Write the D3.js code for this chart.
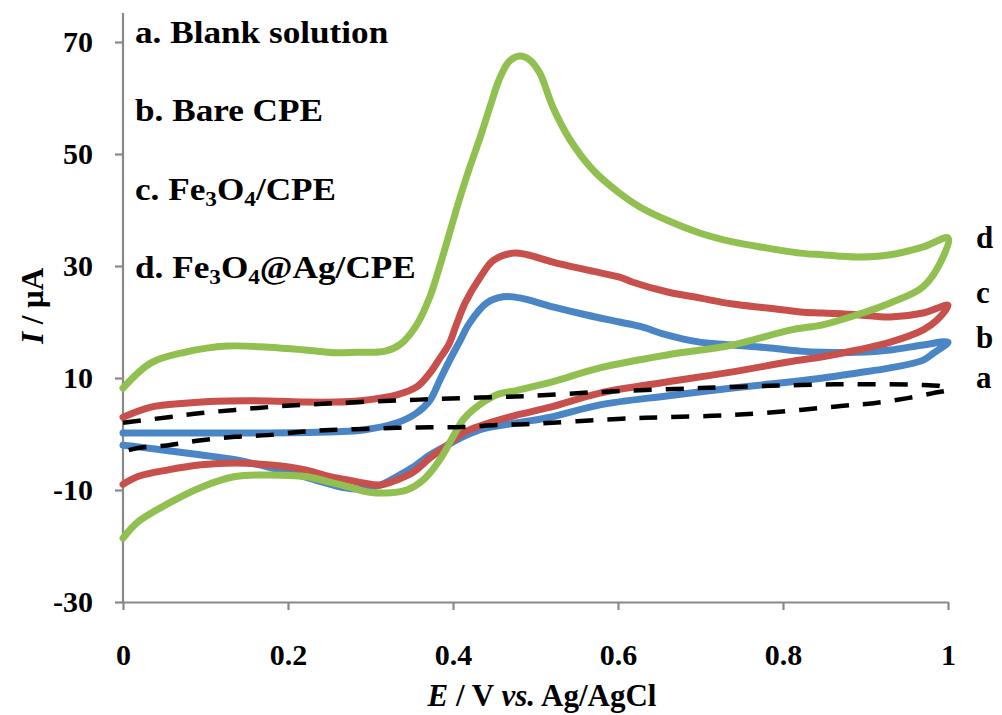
<!DOCTYPE html>
<html>
<head>
<meta charset="utf-8">
<script src="https://cdn.jsdelivr.net/npm/d3@7"></script>
<style>
  html, body { margin: 0; padding: 0; background: #fff; }
  svg { display: block; }
  svg text { font-family: "Liberation Serif", Tinos, "Times New Roman", Times, "Noto Serif", "DejaVu Serif", serif; font-weight: bold; fill: #000; }
</style>
</head>
<body>
<svg id="chart" width="1002" height="715"></svg>
<script>
// ---------------- data ----------------
const xTicks = [0, 0.2, 0.4, 0.6, 0.8, 1];
const yTicks = [-30, -10, 10, 30, 50, 70];

const legendLabels = ["a. Blank solution", "b. Bare CPE", "c. Fe3O4/CPE", "d. Fe3O4@Ag/CPE"];
const curveTags = ["a", "b", "c", "d"];

// a. Blank solution (dashed)
const eA_fwd = [0, 0.055, 0.095, 0.136, 0.176, 0.216, 0.257, 0.332, 0.372, 0.412, 0.453, 0.493, 0.578, 0.699, 0.821, 0.89, 0.97, 0.992, 1.0];
const iA_fwd = [2.0, 3.0, 3.75, 4.3, 4.8, 5.2, 5.5, 6.0, 6.2, 6.4, 6.6, 6.8, 7.5, 8.2, 8.75, 8.9, 8.75, 8.5, 7.9];
const eA_rev = [0.982, 0.951, 0.91, 0.87, 0.821, 0.739, 0.659, 0.6, 0.493, 0.453, 0.412, 0.372, 0.332, 0.291, 0.251, 0.216, 0.176, 0.136, 0.095, 0.055, 0.018, 0];
const iA_rev = [7.3, 6.4, 5.5, 5.0, 4.3, 3.4, 3.0, 2.7, 1.8, 1.6, 1.25, 1.2, 1.1, 0.9, 0.7, 0.4, -0.2, -0.5, -1.1, -2.0, -2.5, -3.2];

// b. Bare CPE (blue)
const eB_fwd = [0, 0.127, 0.176, 0.257, 0.291, 0.332, 0.356, 0.372, 0.384, 0.396, 0.408, 0.42, 0.441, 0.461, 0.481, 0.521, 0.562, 0.602, 0.627, 0.659, 0.699, 0.739, 0.781, 0.821, 0.848, 0.89, 0.93, 0.97, 1.0];
const iB_fwd = [0.2, 0.2, 0.2, 0.4, 0.7, 2.0, 3.75, 6.0, 9.6, 13.2, 16.5, 19.8, 23.4, 24.5, 24.3, 22.7, 21.25, 20.0, 19.2, 17.7, 16.4, 15.9, 15.4, 14.8, 14.6, 14.6, 15.0, 15.9, 16.4];
const eB_rev = [0.982, 0.97, 0.93, 0.89, 0.848, 0.808, 0.739, 0.659, 0.578, 0.518, 0.478, 0.436, 0.412, 0.393, 0.372, 0.352, 0.332, 0.312, 0.291, 0.265, 0.24, 0.21, 0.176, 0.136, 0.095, 0.055, 0.018, 0];
const iB_rev = [14.4, 13.2, 11.8, 10.9, 10.0, 9.3, 8.2, 6.8, 5.2, 3.0, 2.0, 0.9, -0.5, -2.0, -3.75, -5.9, -7.6, -9.1, -9.8, -9.5, -8.5, -7.2, -5.9, -4.6, -3.75, -3.0, -2.3, -2.0];

// c. Fe3O4/CPE (red)
const eC_fwd = [0, 0.034, 0.075, 0.127, 0.176, 0.221, 0.257, 0.291, 0.332, 0.356, 0.372, 0.384, 0.395, 0.404, 0.415, 0.433, 0.449, 0.473, 0.49, 0.521, 0.562, 0.602, 0.618, 0.659, 0.699, 0.739, 0.781, 0.821, 0.848, 0.89, 0.93, 0.97, 1.0];
const iC_fwd = [3.0, 4.8, 5.5, 5.9, 5.9, 5.7, 5.7, 6.0, 7.0, 8.4, 10.9, 13.5, 16.0, 19.5, 23.5, 28.0, 31.0, 32.3, 32.0, 30.7, 29.3, 28.0, 27.1, 25.4, 24.3, 23.2, 22.5, 21.8, 21.6, 21.3, 20.9, 21.6, 23.0];
const eC_rev = [0.987, 0.97, 0.93, 0.89, 0.848, 0.808, 0.739, 0.659, 0.578, 0.518, 0.478, 0.436, 0.412, 0.393, 0.372, 0.352, 0.332, 0.312, 0.291, 0.272, 0.251, 0.221, 0.176, 0.136, 0.095, 0.055, 0.018, 0];
const iC_rev = [20.4, 18.6, 16.4, 15.0, 13.8, 12.9, 11.1, 9.3, 7.3, 4.8, 3.4, 1.6, 0.2, -2.0, -4.3, -6.8, -8.2, -9.1, -8.75, -8.2, -7.6, -6.4, -5.5, -5.2, -5.5, -6.4, -7.6, -9.0];

// d. Fe3O4@Ag/CPE (green)
const eD_fwd = [0, 0.034, 0.075, 0.127, 0.176, 0.221, 0.257, 0.284, 0.318, 0.336, 0.356, 0.372, 0.384, 0.396, 0.408, 0.42, 0.433, 0.445, 0.456, 0.468, 0.481, 0.493, 0.505, 0.521, 0.542, 0.570, 0.602, 0.627, 0.659, 0.699, 0.739, 0.781, 0.821, 0.848, 0.89, 0.93, 0.97, 1.0];
const iD_fwd = [8.2, 12.7, 14.6, 15.7, 15.5, 15.0, 14.5, 14.6, 14.8, 16.0, 19.5, 24.5, 30.0, 36.0, 42.0, 47.5, 53.0, 58.5, 63.3, 66.5, 67.5, 66.8, 64.5, 58.4, 52.5, 47.1, 43.0, 40.5, 38.2, 35.9, 34.3, 33.2, 32.3, 32.0, 31.6, 32.0, 33.4, 35.0];
const eD_rev = [0.994, 0.97, 0.93, 0.89, 0.848, 0.81, 0.739, 0.659, 0.578, 0.52, 0.478, 0.453, 0.424, 0.412, 0.4, 0.384, 0.364, 0.344, 0.324, 0.299, 0.275, 0.251, 0.221, 0.176, 0.136, 0.095, 0.055, 0.018, 0];
const iD_rev = [31.6, 26.3, 23.4, 21.3, 19.5, 18.6, 15.9, 14.1, 11.8, 9.3, 7.8, 7.0, 4.3, 2.5, -0.5, -4.6, -8.2, -10.0, -10.5, -10.4, -9.5, -8.6, -7.6, -7.3, -7.6, -9.5, -12.4, -15.7, -18.6];

// ---------------- chart ----------------
const FONT = '"Liberation Serif", Tinos, "Times New Roman", Times, "Noto Serif", "DejaVu Serif", serif';
const svg = d3.select("#chart").attr("font-family", FONT);
const axisColor = "#898989";

const x = d3.scaleLinear().domain([0, 1]).range([123, 948]);
const y = d3.scaleLinear().domain([-30, 70]).range([602, 42]);
const yTop = 75.2; // axis line extends a bit above the 70 tick

function pts(e1, i1, e2, i2) {
  const a = e1.map((e, k) => [e, i1[k]]);
  const b = e2.map((e, k) => [e, i2[k]]);
  return a.concat(b);
}

const series = [
  { key: "b", data: pts(eB_fwd, iB_fwd, eB_rev, iB_rev), color: "#4A85C6", width: 7, dash: null },
  { key: "c", data: pts(eC_fwd, iC_fwd, eC_rev, iC_rev), color: "#C8504C", width: 7, dash: null },
  { key: "d", data: pts(eD_fwd, iD_fwd, eD_rev, iD_rev), color: "#92C050", width: 7, dash: null },
  { key: "a", data: pts(eA_fwd, iA_fwd, eA_rev, iA_rev), color: "#000000", width: 4.5, dash: "18,14" }
];

// axes
const yAxis = d3.axisLeft(y).tickValues(yTicks).tickSize(8).tickSizeOuter(0).tickPadding(22)
  .tickFormat(d => String(d));
const gy = svg.append("g").attr("transform", "translate(123,0)").call(yAxis).attr("font-family", FONT);
gy.select(".domain").remove();
gy.append("line").attr("x1", 0).attr("x2", 0).attr("y1", y(yTop)).attr("y2", y(-30))
  .attr("stroke", axisColor).attr("stroke-width", 2.2);
gy.selectAll(".tick line").attr("stroke", axisColor).attr("stroke-width", 2.2);
gy.selectAll(".tick text").attr("font-size", 30).attr("font-family", FONT)
  .attr("font-weight", "bold").attr("fill", "#000");

const xAxis = d3.axisBottom(x).tickValues(xTicks).tickSize(8).tickSizeOuter(0)
  .tickFormat(d => (d === 0 ? "0" : d === 1 ? "1" : d3.format(".1f")(d)));
const gx = svg.append("g").attr("transform", "translate(0,602)").call(xAxis).attr("font-family", FONT);
gx.select(".domain").attr("stroke", axisColor).attr("stroke-width", 2.2);
gx.selectAll(".tick line").attr("stroke", axisColor).attr("stroke-width", 2.2);
gx.selectAll(".tick text").attr("font-size", 30).attr("font-family", FONT)
  .attr("font-weight", "bold").attr("fill", "#000").attr("dy", null).attr("y", 63);

// curves
const line = d3.line().x(d => x(d[0])).y(d => y(d[1])).curve(d3.curveCatmullRom.alpha(0.5));
svg.append("g").selectAll("path").data(series).join("path")
  .attr("d", d => line(d.data))
  .attr("fill", "none")
  .attr("stroke", d => d.color)
  .attr("stroke-width", d => d.width)
  .attr("stroke-dasharray", d => d.dash)
  .attr("stroke-linejoin", "round")
  .attr("stroke-linecap", d => d.dash ? "butt" : "round");

// legend text block (upper left)
const legendY = [43, 121, 200, 278];
const lg = svg.append("g");
function addLabel(g, str, xx, yy, size) {
  const t = g.append("text").attr("transform", `translate(${xx},${yy}) scale(1.1,1)`)
    .attr("font-size", size);
  const parts = str.split(/(Fe3|O4)/).filter(s => s.length);
  let shift = 0;
  parts.forEach(p => {
    if (p === "Fe3" || p === "O4") {
      t.append("tspan").text(p[0] === "F" ? "Fe" : "O").attr("dy", shift ? -shift : null);
      t.append("tspan").text(p.slice(-1)).attr("font-size", size * 0.66).attr("dy", size * 0.18);
      shift = size * 0.18;
    } else {
      t.append("tspan").text(p).attr("dy", shift ? -shift : null);
      shift = 0;
    }
  });
  return t;
}
legendLabels.forEach((s, k) => addLabel(lg, s, 135, legendY[k], 32));

// right-side curve tags
const tagY = { d: 248, c: 303, b: 348, a: 388 };
svg.append("g").selectAll("text").data(curveTags).join("text")
  .attr("x", 976).attr("y", d => tagY[d]).attr("font-size", 31).text(d => d);

// axis titles
const xt = svg.append("text").attr("x", 542).attr("y", 706).attr("text-anchor", "middle").attr("font-size", 31);
xt.append("tspan").attr("font-style", "italic").text("E");
xt.append("tspan").text(" / V  ");
xt.append("tspan").attr("font-style", "italic").text("vs.");
xt.append("tspan").text(" Ag/AgCl");

const yt = svg.append("text").attr("transform", "translate(43,306) rotate(-90)")
  .attr("text-anchor", "middle").attr("font-size", 31);
yt.append("tspan").attr("font-style", "italic").text("I");
yt.append("tspan").text(" / \u03BCA");
</script>
</body>
</html>
